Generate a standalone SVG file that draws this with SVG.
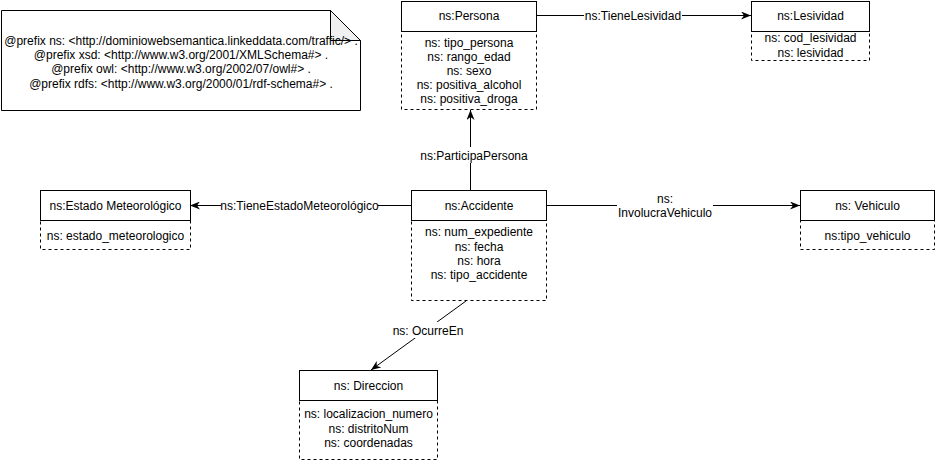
<svg xmlns="http://www.w3.org/2000/svg" width="936" height="462" viewBox="0 0 936 462">
<style>
text{font-family:"Liberation Sans",Arial,sans-serif;font-size:12px;fill:#000;text-anchor:middle}
.hdr{fill:#fff;stroke:#000;stroke-width:1}
.att{fill:#fff;stroke:#000;stroke-width:1;stroke-dasharray:3 3}
.edge{fill:none;stroke:#000;stroke-width:1}
.lbl{fill:#fff;stroke:none}
</style>
<defs>
<marker id="arr" viewBox="0 0 10 8" refX="10" refY="4" markerWidth="10" markerHeight="8" markerUnits="userSpaceOnUse" orient="auto">
<path d="M0,0 L10,4 L0,8 L3,4 Z" fill="#000"/>
</marker>
</defs>
<rect width="936" height="462" fill="#fff"/>

<g id="note">
<path d="M1.5,10.5 L330.5,10.5 L360.5,40.5 L360.5,110.5 L1.5,110.5 Z" fill="#fff" stroke="#000"/>
<path d="M330.5,10.5 L330.5,40.5 L360.5,40.5 Z" fill="#f0f0f0" stroke="#000"/>
<text x="181" y="44.5">@prefix ns: &lt;http://dominiowebsemantica.linkeddata.com/traffic/&gt; .</text>
<text x="181" y="59">@prefix xsd: &lt;http://www.w3.org/2001/XMLSchema#&gt; .</text>
<text x="181" y="73">@prefix owl: &lt;http://www.w3.org/2002/07/owl#&gt; .</text>
<text x="181" y="87.5">@prefix rdfs: &lt;http://www.w3.org/2000/01/rdf-schema#&gt; .</text>
</g>

<g id="connectors">
<g id="e-tieneLesividad">
<path class="edge" d="M536,15.5 L751,15.5" marker-end="url(#arr)"/>
<rect class="lbl" x="584" y="8" width="98" height="15"/>
<text x="633" y="19.5">ns:TieneLesividad</text>
</g>
<g id="e-participaPersona">
<path class="edge" d="M470.5,190 L470.5,110" marker-end="url(#arr)"/>
<rect class="lbl" x="419" y="147" width="110" height="16"/>
<text x="474" y="159.5">ns:ParticipaPersona</text>
</g>
<g id="e-tieneEstado">
<path class="edge" d="M411,205.5 L190,205.5" marker-end="url(#arr)"/>
<rect class="lbl" x="221" y="198" width="157" height="15"/>
<text x="299.5" y="209.5">ns:TieneEstadoMeteorológico</text>
</g>
<g id="e-involucra">
<path class="edge" d="M547,205.5 L800,205.5" marker-end="url(#arr)"/>
<rect class="lbl" x="617" y="191" width="96" height="29"/>
<text x="665" y="202.5">ns:</text>
<text x="665" y="217">InvolucraVehiculo</text>
</g>
<g id="e-ocurreEn">
<path class="edge" d="M466,301 L371,370" marker-end="url(#arr)"/>
<rect class="lbl" x="391" y="322" width="74" height="16"/>
<text x="428" y="334.5">ns: OcurreEn</text>
</g>
</g>

<g id="persona">
<rect class="att" x="401.5" y="31.5" width="135" height="78"/>
<rect class="hdr" x="401.5" y="1.5" width="135" height="30"/>
<text x="469" y="20">ns:Persona</text>
<text x="469" y="47">ns: tipo_persona</text>
<text x="469" y="61">ns: rango_edad</text>
<text x="469" y="75">ns: sexo</text>
<text x="469" y="89">ns: positiva_alcohol</text>
<text x="469" y="103">ns: positiva_droga</text>
</g>

<g id="lesividad">
<rect class="att" x="751.5" y="31.5" width="118" height="29"/>
<rect class="hdr" x="751.5" y="1.5" width="118" height="30"/>
<text x="810.5" y="20">ns:Lesividad</text>
<text x="810.5" y="42">ns: cod_lesividad</text>
<text x="810.5" y="56.5">ns: lesividad</text>
</g>

<g id="estado">
<rect class="att" x="40.5" y="220.5" width="150" height="29"/>
<rect class="hdr" x="40.5" y="190.5" width="150" height="30"/>
<text x="115.5" y="209.5">ns:Estado Meteorológico</text>
<text x="115.5" y="239.5">ns: estado_meteorologico</text>
</g>

<g id="accidente">
<rect class="att" x="411.5" y="220.5" width="135" height="80"/>
<rect class="hdr" x="411.5" y="190.5" width="135" height="30"/>
<text x="479" y="209.5">ns:Accidente</text>
<text x="479" y="236">ns: num_expediente</text>
<text x="479" y="250.5">ns: fecha</text>
<text x="479" y="264.5">ns: hora</text>
<text x="479" y="279">ns: tipo_accidente</text>
</g>

<g id="vehiculo">
<rect class="att" x="800.5" y="220.5" width="134" height="29"/>
<rect class="hdr" x="800.5" y="190.5" width="134" height="30"/>
<text x="867.5" y="209.5">ns: Vehiculo</text>
<text x="867.5" y="239.5">ns:tipo_vehiculo</text>
</g>

<g id="direccion">
<rect class="att" x="299.5" y="400.5" width="138" height="59"/>
<rect class="hdr" x="299.5" y="370.5" width="138" height="30"/>
<text x="368.5" y="389.5">ns: Direccion</text>
<text x="368.5" y="418">ns: localizacion_numero</text>
<text x="368.5" y="432.5">ns: distritoNum</text>
<text x="368.5" y="447">ns: coordenadas</text>
</g>
</svg>
